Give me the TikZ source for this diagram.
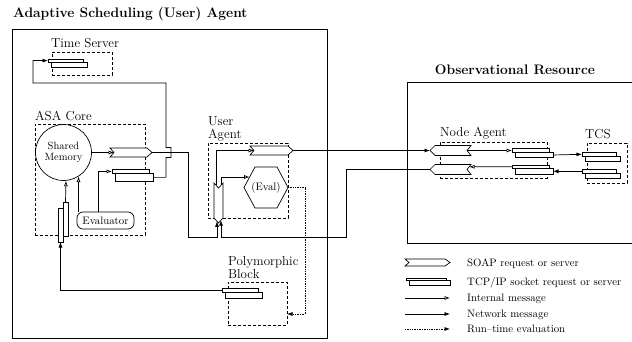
\documentclass[tikz,border=0pt]{standalone}
\usetikzlibrary{arrows.meta}
\newcommand{\tcpbox}[5]{%
  \pgfmathsetmacro\tcpm{#3+0.4*(#5-#3)}%
  \pgfmathsetmacro\tcpl{#2+3.5}%
  \pgfmathsetmacro\tcpr{#4-3.5}%
  \pgfmathsetmacro\tcpw{#3+0.2*(#5-#3)}%
  \pgfmathsetmacro\tcpe{#3+0.7*(#5-#3)}%
  \draw[shp] (#2,#3) -- (\tcpr,#3) -- (\tcpr,\tcpm) -- (#4,\tcpm) -- (#4,#5) -- (\tcpl,#5) -- (\tcpl,\tcpm) -- (#2,\tcpm) -- cycle;
  \draw[shp] (\tcpl,\tcpm) -- (\tcpr,\tcpm);
  \coordinate (#1-w) at (#2,\tcpw);
  \coordinate (#1-e) at (#4,\tcpe);
}
% SOAP: notch left, point right
\newcommand{\soapbox}[5]{%
  \pgfmathsetmacro\spm{(#3+#5)/2}%
  \pgfmathsetmacro\spr{#4-5}%
  \pgfmathsetmacro\spl{#2+4}%
  \draw[shp] (#2,#3) -- (\spr,#3) -- (#4,\spm) -- (\spr,#5) -- (#2,#5) -- (\spl,\spm) -- cycle;
  \coordinate (#1-n) at (\spl,\spm);
  \coordinate (#1-t) at (#4,\spm);
}
% reversed SOAP: point left, notch right
\newcommand{\soaprev}[5]{%
  \pgfmathsetmacro\spm{(#3+#5)/2}%
  \pgfmathsetmacro\spl{#2+5}%
  \pgfmathsetmacro\spr{#4-4}%
  \draw[shp] (#2,\spm) -- (\spl,#3) -- (#4,#3) -- (\spr,\spm) -- (#4,#5) -- (\spl,#5) -- cycle;
  \coordinate (#1-t) at (#2,\spm);
  \coordinate (#1-n) at (\spr,\spm);
}
\tikzset{
  shp/.style={draw=black, line width=0.7pt, fill=white, line join=miter},
  dbox/.style={draw=black, line width=0.7pt, dash pattern=on 3pt off 2pt, inner sep=0pt},
  mainbox/.style={draw=black, line width=0.8pt, inner sep=0pt},
  lbl/.style={font=\fontsize{13}{15}\selectfont, inner sep=0pt, anchor=base west},
  inr/.style={font=\fontsize{10.8}{12}\selectfont, inner sep=0pt},
  lgt/.style={font=\fontsize{10.8}{12}\selectfont, inner sep=0pt, anchor=base west},
  ttl/.style={font=\fontsize{13.8}{16}\selectfont\bfseries, inner sep=0pt},
  con/.style={line width=0.7pt},
  int/.style={con, -{Latex[open, length=5.5pt, width=4pt]}},
  net/.style={con, -{Latex[length=5.5pt, width=4pt]}},
  rte/.style={con, densely dotted, -{Latex[length=5.5pt, width=4pt]}},
}
\begin{document}
\begin{tikzpicture}[x=1pt, y=-1pt]
\useasboundingbox (0,0) rectangle (632,342);

% titles and main boxes
\node[ttl, anchor=base west] (t1) at (13,18) {Adaptive Scheduling (User) Agent};
\node[mainbox, minimum width=315pt, minimum height=309pt] (ua) at (169.5,183.5) {};
\node[ttl, anchor=base] (t2) at (515,75) {Observational Resource};
\node[mainbox, minimum width=230pt, minimum height=161pt, anchor=north west] (obs) at (407,82) {};

% Time server
\node[lbl] (tsl) at (51,48) {Time Server};
\node[dbox, minimum width=60pt, minimum height=23pt] (tsb) at (82,63.5) {};
\tcpbox{ts}{48}{59}{87}{67}

% ASA core
\node[lbl] (asal) at (35,121) {ASA Core};
\node[dbox, minimum width=110pt, minimum height=111pt] (asab) at (90,179.5) {};
\node[circle, draw, line width=0.7pt, minimum size=56pt, inner sep=0pt, align=center,
      font=\fontsize{10.5}{11}\selectfont] (mem) at (63.5,152.5) {Shared\\Memory};
\soapbox{asaS}{110}{148}{152}{157}
\tcpbox{asaT}{112}{169}{153}{181}
\node[draw, line width=0.7pt, rounded corners=6pt, minimum width=57pt, minimum height=17pt,
      inr] (eval) at (105.5,220.5) {Evaluator};
\draw[shp] (63,202) -- (68,202) -- (68,236) -- (63,236) -- (63,242) -- (58,242) -- (58,208) -- (63,208) -- cycle;
\draw[shp] (63,208) -- (63,236);
\coordinate (asaV-t) at (65.5,202);
\coordinate (asaV-b) at (60.5,242);

% User agent
\node[lbl] (ual1) at (208,126) {User};
\node[lbl] (ual2) at (208,139) {Agent};
\node[dbox, minimum width=80pt, minimum height=75pt] (uab) at (248,180.5) {};
\soapbox{uaS}{250}{146}{293}{155}
\draw[shp] (214,183) -- (218.5,188) -- (223,183) -- (223,218) -- (218.5,223) -- (214,218) -- cycle;
\coordinate (uaV-t1) at (216,185.2);
\coordinate (uaV-t2) at (221,185.2);
\coordinate (uaV-b1) at (217,221.3);
\coordinate (uaV-b2) at (221,220.2);
\draw[shp] (244,187.5) -- (255,167) -- (277,167) -- (288,187.5) -- (277,208) -- (255,208) -- cycle;
\node[inr] (hex) at (266,187.5) {(Eval)};
\coordinate (hex-a) at (249.6,177);
\coordinate (hex-e) at (288,187.5);

% Polymorphic block
\node[lbl] (pl1) at (228,265) {Polymorphic};
\node[lbl] (pl2) at (228,278) {Block};
\node[dbox, minimum width=59pt, minimum height=43pt] (pb) at (257.5,303.5) {};
\tcpbox{polyT}{222}{288}{262}{298}
\coordinate (pb-in) at (287,314);

% Node agent
\node[lbl] (nal) at (440,137) {Node Agent};
\node[dbox, minimum width=107pt, minimum height=36pt] (nab) at (493.5,160) {};
\soaprev{naS1}{430}{145.5}{471}{155.5}
\soaprev{naS2}{430}{164.5}{471}{174.5}
\tcpbox{naT1}{512}{148.7}{553}{157.7}
\tcpbox{naT2}{512}{165}{553}{174}
\coordinate (naS2-a) at (469.2,166.8);

% TCS
\node[lbl] (tcsl) at (585,139) {TCS};
\node[dbox, minimum width=40pt, minimum height=40pt] (tcsb) at (607,163) {};
\tcpbox{tcs1}{582}{152.5}{620}{161.5}
\tcpbox{tcs2}{582}{169.5}{620}{178.5}

% connectors
\draw[net] (asaT-e) -- (166,177.4) -- (166,157.5) -- (171,157.5) -- (171,147.5) -- (166,147.5) -- (166,83) -- (33,83) |- (ts-w);
\draw[int] (mem.east) -- (asaS-n);
\draw[int] ([xshift=-7pt]eval.north) |- (asaT-w);
\draw[int] (eval.north -| mem.-58.8) -- (mem.-58.8);
\draw[int] (asaV-t) -- (mem.-85.9);
\draw[net] (polyT-w) -| (asaV-b);
\draw[net] (asaS-t) -- (188,152.5) -- (188,237) -| (uaV-b1);
\draw[int] (uaV-t1) |- (uaS-n);
\draw[int] (uaV-t2) |- (hex-a);
\draw[net] (uaS-t) -- (naS1-t);
\draw[net] (naS2-t) -- (346,169.5) -- (346,237) -| (uaV-b2);
\draw[rte] (hex-e) -- (305,187.5) |- (pb-in);
\draw[int] (naS1-n) -- (naT1-w);
\draw[int] (naT2-w) -- (naS2-a);
\draw[net] (naT1-e) -- (tcs1-w);
\draw[net] (tcs2-w) -- (naT2-e);

% legend
\soapbox{lgS}{405}{259}{450}{266}
\tcpbox{lgT}{406}{278}{450}{285}
\coordinate (l3a) at (405,298); \coordinate (l3b) at (450,298);
\coordinate (l4a) at (405,314); \coordinate (l4b) at (450,314);
\coordinate (l5a) at (405,329); \coordinate (l5b) at (450,329);
\draw[int] (l3a) -- (l3b);
\draw[net] (l4a) -- (l4b);
\draw[rte] (l5a) -- (l5b);
\node[lgt] (lt1) at (467,266) {SOAP request or server};
\node[lgt] (lt2) at (467,285) {TCP/IP socket request or server};
\node[lgt] (lt3) at (467,301) {Internal message};
\node[lgt] (lt4) at (467,317) {Network message};
\node[lgt] (lt5) at (467,332) {Run--time evaluation};
\end{tikzpicture}
\end{document}
